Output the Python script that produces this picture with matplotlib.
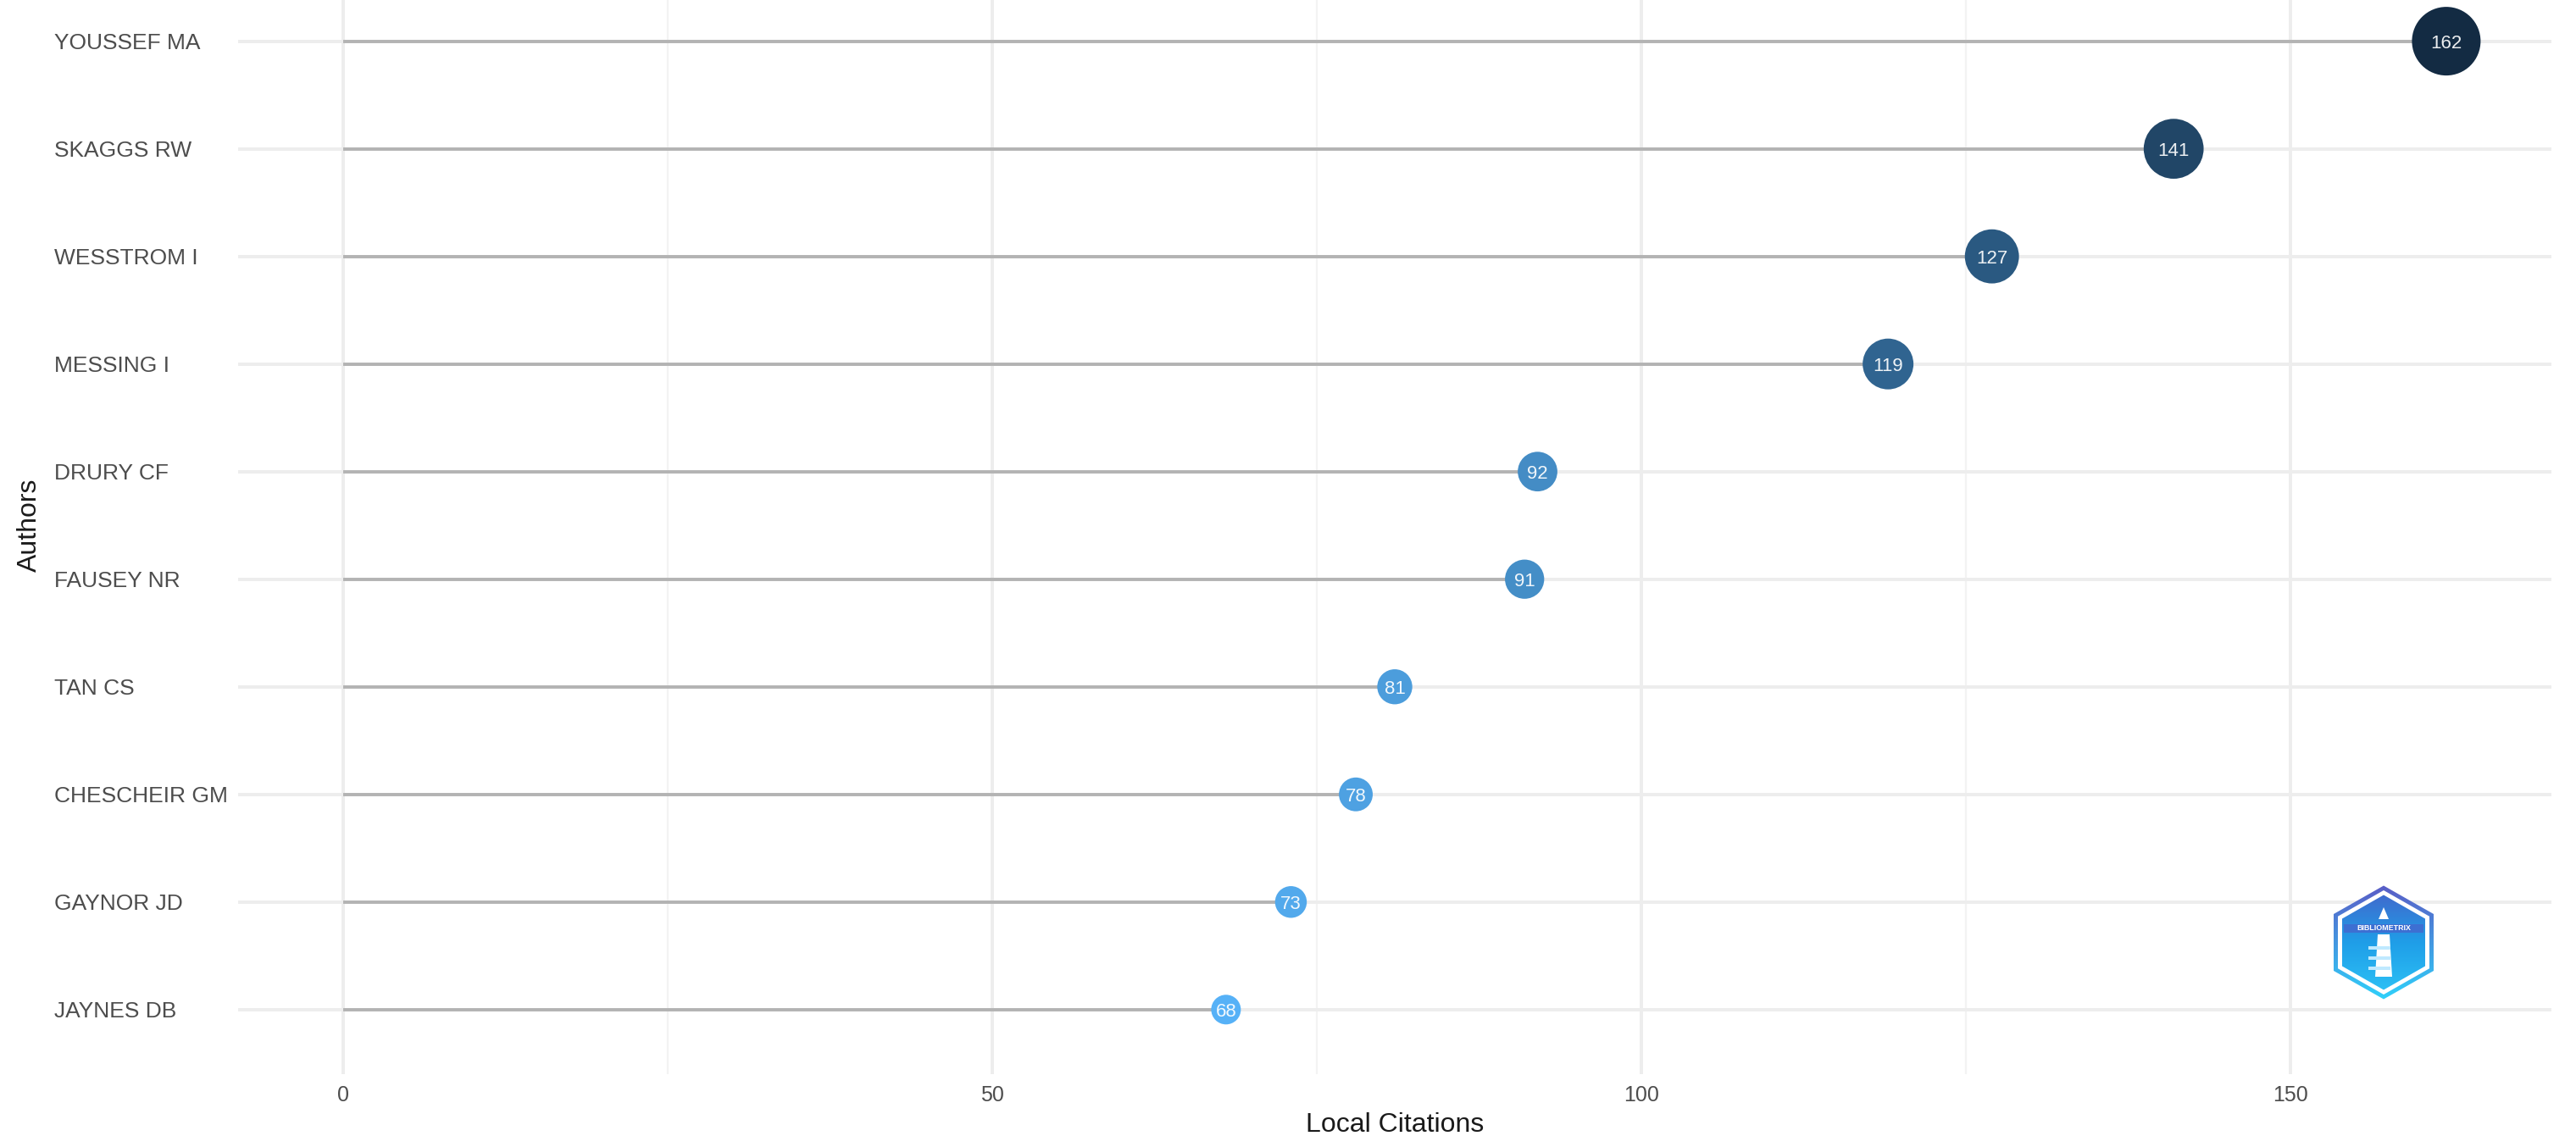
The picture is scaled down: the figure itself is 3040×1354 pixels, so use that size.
import numpy as np
import matplotlib
matplotlib.use("Agg")
import matplotlib.pyplot as plt
from matplotlib.patches import Polygon
from matplotlib.ticker import MultipleLocator, FixedLocator

# ---------------- data ----------------
authors = ["YOUSSEF MA", "SKAGGS RW", "WESSTROM I", "MESSING I", "DRURY CF",
           "FAUSEY NR", "TAN CS", "CHESCHEIR GM", "GAYNOR JD", "JAYNES DB"]
citations = [162, 141, 127, 119, 92, 91, 81, 78, 73, 68]
x_ticks = [0, 50, 100, 150]
x_label = "Local Citations"
y_label = "Authors"

# ---------------- style ----------------
FONT = ["Liberation Sans", "DejaVu Sans"]
plt.rcParams["font.family"] = FONT
W, H, DPI = 3040, 1354, 200
LOW_COL, HIGH_COL = "#56B1F7", "#132B43"


def _hex2rgb(h):
    h = h.lstrip("#")
    return np.array([int(h[i:i + 2], 16) / 255 for i in (0, 2, 4)])


_M = np.array([[0.4124, 0.3576, 0.1805], [0.2126, 0.7152, 0.0722], [0.0193, 0.1192, 0.9505]])
_WHITE = np.array([0.95047, 1.0, 1.08883])


def rgb2lab(c):
    lin = np.where(c <= 0.04045, c / 12.92, ((c + 0.055) / 1.055) ** 2.4)
    xyz = _M @ lin / _WHITE
    f = np.where(xyz > 0.008856, np.cbrt(xyz), 7.787 * xyz + 16 / 116)
    return np.array([116 * f[1] - 16, 500 * (f[0] - f[1]), 200 * (f[1] - f[2])])


def lab2rgb(lab):
    fy = (lab[0] + 16) / 116
    fx = fy + lab[1] / 500
    fz = fy - lab[2] / 200
    f = np.array([fx, fy, fz])
    xyz = np.where(f ** 3 > 0.008856, f ** 3, (f - 16 / 116) / 7.787) * _WHITE
    lin = np.linalg.solve(_M, xyz)
    lin = np.clip(lin, 0, 1)
    c = np.where(lin <= 0.0031308, 12.92 * lin, 1.055 * lin ** (1 / 2.4) - 0.055)
    return np.clip(c, 0, 1)


lab_lo, lab_hi = rgb2lab(_hex2rgb(LOW_COL)), rgb2lab(_hex2rgb(HIGH_COL))
vals = np.array(citations, dtype=float)
vmin, vmax = vals.min(), vals.max()
tt = (vals - vmin) / (vmax - vmin)
colors = [lab2rgb(lab_lo + t * (lab_hi - lab_lo)) for t in tt]

# bubble diameters (px) mapped linearly from value range
D_MIN, D_MAX = 35, 81
diam_px = D_MIN + tt * (D_MAX - D_MIN)
sizes = (diam_px * 72 / DPI) ** 2

fig = plt.figure(figsize=(W / DPI, H / DPI), dpi=DPI)
fig.patch.set_facecolor("white")

ax_left, ax_right = 281, 3011
ax_top, ax_bot = -27.6, 1268
ax = fig.add_axes([ax_left / W, 1 - ax_bot / H, (ax_right - ax_left) / W, (ax_bot - ax_top) / H])
ax.set_facecolor("white")

n = len(authors)
ypos = np.arange(n)[::-1]  # first author on top

ax.set_xlim(-8.1, 170.1)
ax.set_ylim(-0.6, n - 1 + 0.6)

# grid
ax.xaxis.set_major_locator(FixedLocator(x_ticks))
ax.xaxis.set_minor_locator(MultipleLocator(25))
ax.set_yticks(ypos)
ax.set_yticklabels(authors)
ax.grid(which="major", axis="both", color="#ededed", linewidth=1.4, zorder=0)
ax.grid(which="minor", axis="x", color="#f3f3f3", linewidth=0.8, zorder=0)
ax.set_axisbelow(True)

for s in ax.spines.values():
    s.set_visible(False)

# segments
ax.hlines(ypos, 0, vals, color="#b3b3b3", linewidth=1.4, zorder=2)
# bubbles
ax.scatter(vals, ypos, s=sizes, c=colors, edgecolors="none", zorder=3)
for v, y in zip(citations, ypos):
    ax.text(v, y, str(v), color="white", fontsize=8, ha="center", va="center_baseline",
            zorder=4, alpha=0.92)

# ticks / labels
ax.tick_params(axis="both", which="both", length=0)
ax.tick_params(axis="y", pad=(ax_left - 64) * 72 / DPI, labelsize=9.5, labelcolor="#4d4d4d")
for lbl in ax.get_yticklabels():
    lbl.set_horizontalalignment("left")
ax.tick_params(axis="x", pad=4.5, labelsize=9, labelcolor="#4d4d4d")

ax.set_xlabel(x_label, fontsize=11.5, color="#1a1a1a", labelpad=3)
ax.set_ylabel(y_label, fontsize=11.5, color="#1a1a1a")
ax.yaxis.label.set_va("center")
ax.yaxis.set_label_coords((35 - ax_left) / (ax_right - ax_left), 0.5)

# ---------------- logo (bibliometrix hexagon) ----------------
lx0, ly_top, lw, lh = 2753, 1044, 120, 137
lax = fig.add_axes([lx0 / W, 1 - (ly_top + lh) / H, lw / W, lh / H])
lax.set_xlim(0, lw)
lax.set_ylim(0, lh)
lax.axis("off")


def hexagon(cx, cy, rw, rh):
    return [(cx, cy + rh), (cx + rw, cy + rh / 2), (cx + rw, cy - rh / 2),
            (cx, cy - rh), (cx - rw, cy - rh / 2), (cx - rw, cy + rh / 2)]


grad = np.linspace(0, 1, 256)[:, None]
cmap_edge = matplotlib.colors.LinearSegmentedColormap.from_list("e", ["#5a5cc6", "#2fd2fb"])
cmap_fill = matplotlib.colors.LinearSegmentedColormap.from_list("f", ["#4660c8", "#1f9ee8", "#2fc6f7"])
cx, cy = lw / 2, lh / 2
outer = Polygon(hexagon(cx, cy, 59, 67), closed=True, transform=lax.transData)
im1 = lax.imshow(grad, extent=(0, lw, 0, lh), cmap=cmap_edge, aspect="auto", origin="upper", zorder=1)
im1.set_clip_path(outer)
lax.add_patch(Polygon(hexagon(cx, cy, 54, 61.5), closed=True, facecolor="white",
                      edgecolor="none", zorder=2))
inner = Polygon(hexagon(cx, cy, 49, 56), closed=True, transform=lax.transData)
im2 = lax.imshow(grad, extent=(0, lw, 0, lh), cmap=cmap_fill, aspect="auto", origin="upper", zorder=3)
im2.set_clip_path(inner)
# band with text
lax.add_patch(Polygon([(13, 80), (107, 80), (107, 90), (13, 90)], closed=True,
                      facecolor="#3d6fd2", edgecolor="none", zorder=4))
lax.text(cx, 85, "BIBLIOMETRIX", color="white", fontsize=3.2, fontweight="bold",
         ha="center", va="center", zorder=5)
# lighthouse
lax.add_patch(Polygon([(cx, 110), (cx - 6, 96), (cx + 6, 96)], closed=True,
                      facecolor="white", edgecolor="none", zorder=5))
lax.add_patch(Polygon([(cx - 7, 78), (cx + 7, 78), (cx + 10, 28), (cx - 10, 28)], closed=True,
                      facecolor="white", edgecolor="none", zorder=5))
for yy in (36, 48, 60):
    lax.add_patch(Polygon([(cx - 18, yy), (cx + 8, yy), (cx + 8, yy + 4), (cx - 18, yy + 4)],
                          closed=True, facecolor="#bfe9ff", edgecolor="none", zorder=6))

fig.savefig("out.png", dpi=DPI, facecolor="white")
